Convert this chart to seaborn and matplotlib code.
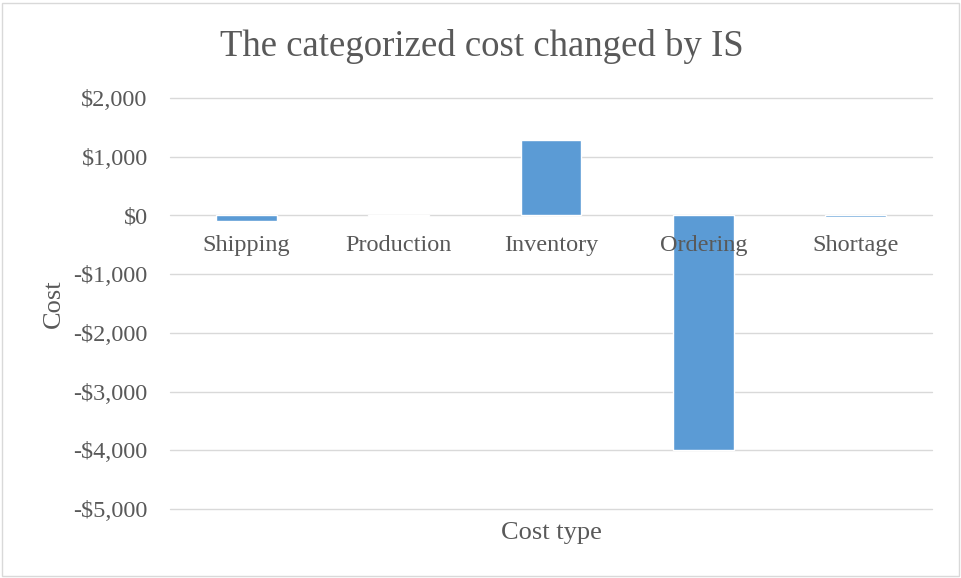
import matplotlib
matplotlib.use("Agg")
import matplotlib.pyplot as plt
import seaborn as sns
import pandas as pd
from matplotlib.patches import Rectangle
from matplotlib.ticker import FuncFormatter

categories = ["Shipping", "Production", "Inventory", "Ordering", "Shortage"]
cost_change = [-100, -5, 1284, -3990, -20]
title = "The categorized cost changed by IS"

sns.set_theme(style="white")
plt.rcParams["font.family"] = ["Liberation Serif", "DejaVu Serif"]

df = pd.DataFrame({"Cost type": categories, "Cost": cost_change})

fig = plt.figure(figsize=(9.62, 5.78), dpi=100)
ax = fig.add_axes([170/962, 1-509/578, (932-170)/962, (509-98)/578])

sns.barplot(data=df, x="Cost type", y="Cost", color="#5B9BD5", width=0.4,
            saturation=1, ax=ax, zorder=3)

ax.set_ylim(-5000, 2000)
ax.set_yticks(range(-5000, 2001, 1000))
ax.yaxis.set_major_formatter(FuncFormatter(lambda v, p: f"-${abs(int(v)):,}" if v < 0 else f"${int(v):,}"))
ax.grid(axis="y", color="#D9D9D9", linewidth=1.0, zorder=0)
for gl in ax.yaxis.get_gridlines():
    gl.set_clip_on(False)
ax.set_axisbelow(True)
for s in ax.spines.values():
    s.set_visible(False)
ax.tick_params(axis="y", length=0, pad=16, labelsize=17.5, labelcolor="#595959")
ax.set_xticks([])
for i, c in enumerate(categories):
    ax.annotate(c, xy=(i, 0), xytext=(0, -14), textcoords="offset points",
                ha="center", va="top", fontsize=17.5, color="#595959")

ax.set_xlabel("Cost type", fontsize=19, color="#595959", labelpad=9)
ax.set_ylabel("Cost", fontsize=19, color="#595959", labelpad=6)
fig.suptitle(title, x=482/962, y=1-46/578, va="center", fontsize=26.5, color="#595959")

fig.patches.append(Rectangle((2/962, 2/578), 957/962, 573/578, transform=fig.transFigure,
                             fill=False, edgecolor="#D9D9D9", linewidth=1))

fig.savefig("out.png", dpi=100)
